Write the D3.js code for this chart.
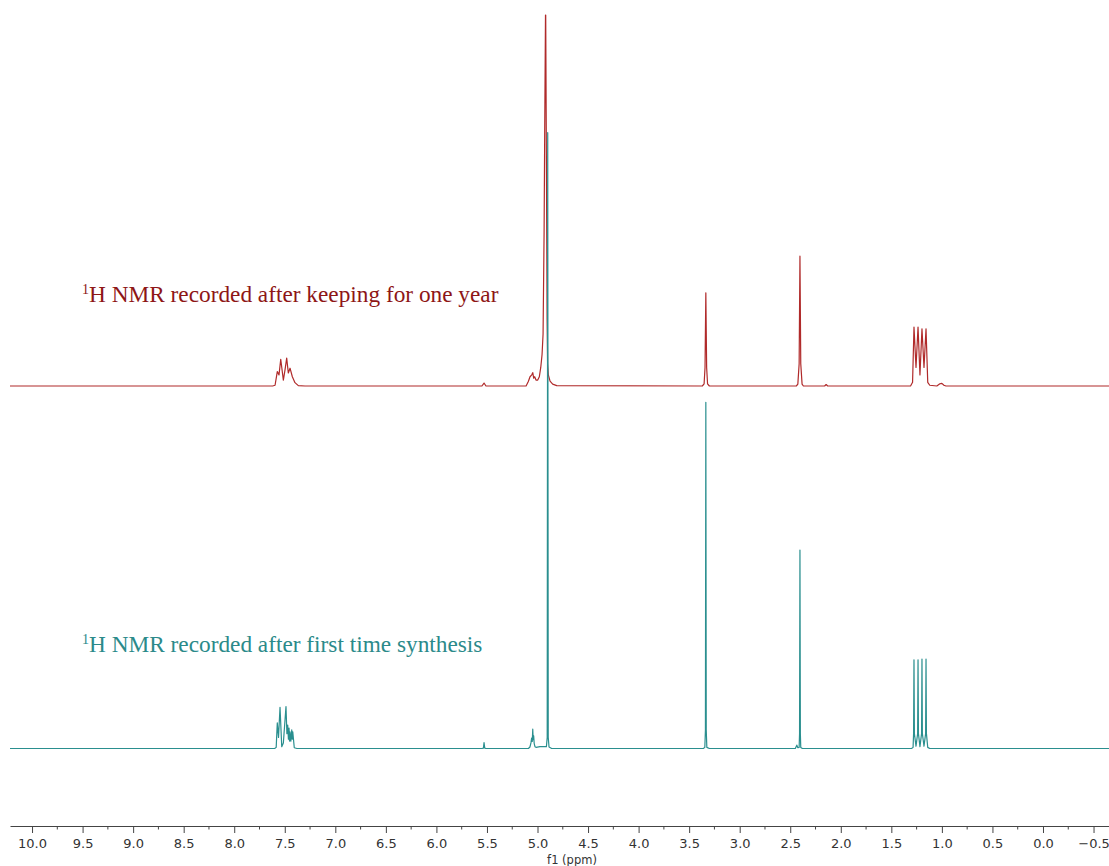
<!DOCTYPE html>
<html><head><meta charset="utf-8">
<script src="https://cdn.jsdelivr.net/npm/d3@7"></script>
<style>body{margin:0;background:#fff}svg{display:block}</style>
</head><body>
<svg id="chart" width="1109" height="866"></svg>
<script>
// ---- data ----
const agedShift = [10.218, 7.62, 7.596, 7.574, 7.557, 7.540, 7.514, 7.498, 7.481, 7.465, 7.448, 7.425, 7.399, 7.366, 7.30,
  5.55, 5.529, 5.51,
  5.113, 5.091, 5.074, 5.057, 5.047, 5.038, 5.028, 5.015, 4.998, 4.982, 4.968, 4.955, 4.945, 4.935, 4.929, 4.921, 4.919, 4.911, 4.905, 4.900, 4.893, 4.876, 4.85, 4.81,
  3.37, 3.352, 3.343, 3.335, 3.327, 3.318, 3.30,
  2.44, 2.425, 2.412, 2.404, 2.396, 2.383, 2.37,
  2.16, 2.145, 2.13,
  1.31, 1.29, 1.276, 1.256, 1.236, 1.217, 1.197, 1.177, 1.157, 1.14, 1.12,
  1.05, 1.02, 1.00, 0.98, 0.96,
  -0.653];
const agedIntensity = [0, 0, 0.2, 3.9, 3.0, 7.2, 1.6, 4.3, 7.5, 3.5, 4.8, 2.5, 0.9, 0.1, 0,
  0, 0.8, 0,
  0, 1.2, 2.5, 3.0, 3.6, 2.1, 2.5, 1.6, 1.6, 2.5, 5.0, 8.5, 14, 41, 68, 100, 100, 55, 18, 6, 3, 1.3, 0.5, 0.1,
  0, 0.6, 5, 25.1, 5, 0.6, 0,
  0, 0.5, 6, 35.0, 6, 0.5, 0,
  0, 0.4, 0,
  0, 1, 15.9, 5, 15.9, 3, 15.4, 5, 15.4, 1, 0.2,
  0, 0.6, 0.7, 0.2, 0,
  0];

const freshShift = [10.218, 7.60, 7.585, 7.574, 7.562, 7.547, 7.530, 7.514, 7.488, 7.479, 7.471, 7.464, 7.458, 7.453, 7.448, 7.440, 7.431, 7.426, 7.421, 7.406, 7.38,
  5.55, 5.535, 5.529, 5.522, 5.51,
  5.09, 5.075, 5.065, 5.058, 5.052, 5.047, 5.043, 5.038, 5.033, 5.025, 5.015, 4.975, 4.935, 4.912, 4.904, 4.899, 4.894, 4.886, 4.86,
  3.36, 3.345, 3.339, 3.335, 3.331, 3.325, 3.30,
  2.45, 2.435, 2.425, 2.412, 2.408, 2.404, 2.400, 2.396, 2.38,
  1.30, 1.285, 1.280, 1.276, 1.272, 1.256, 1.240, 1.236, 1.232, 1.217, 1.201, 1.197, 1.193, 1.177, 1.161, 1.157, 1.153, 1.14, 1.12,
  -0.653];
const freshIntensity = [0, 0, 0.3, 6.9, 3, 11.1, 0.5, 1.5, 11.3, 4, 6.3, 2.5, 5.5, 2, 4.5, 2, 5.0, 2.5, 4.5, 0.2, 0,
  0, 0.1, 1.6, 0.1, 0,
  0, 0.4, 1.5, 2.8, 1.9, 5.2, 2.4, 3.4, 1.4, 0.5, 0.3, 0.5, 0.5, 0.5, 3, 166, 3, 0.4, 0,
  0, 0.3, 5, 93.3, 5, 0.3, 0,
  0, 0.9, 0.2, 0.3, 4, 53.5, 4, 0.3, 0,
  0, 0.3, 4, 23.9, 4, 0.6, 4, 23.9, 4, 0.5, 4, 24.1, 4, 0.6, 4, 24.1, 4, 0.3, 0,
  0];

const seriesLabels = ["H NMR recorded after keeping for one year", "H NMR recorded after first time synthesis"];
const nucleusMark = "1";
const ppmTicks = [10.0, 9.5, 9.0, 8.5, 8.0, 7.5, 7.0, 6.5, 6.0, 5.5, 5.0, 4.5, 4.0, 3.5, 3.0, 2.5, 2.0, 1.5, 1.0, 0.5, 0.0, -0.5];
const axisTitle = "f1 (ppm)";

// ---- drawing ----
const svg = d3.select("#chart");
const x = d3.scaleLinear().domain([10.218, -0.653]).range([10, 1109]);
const h = d3.scaleLinear().domain([0, 100]).range([0, 371]);

const spectra = [
  {shift: agedShift, inten: agedIntensity, base: 386, line: "#b02a2a", text: "#8e1616", label: seriesLabels[0], ly: 302},
  {shift: freshShift, inten: freshIntensity, base: 748.5, line: "#2a8f8f", text: "#2b8a8a", label: seriesLabels[1], ly: 652}
];

spectra.forEach(s => {
  const pts = s.shift.map((p, i) => [p, s.inten[i]]);
  const line = d3.line().x(d => x(d[0])).y(d => s.base - h(d[1]));
  svg.append("path").attr("d", line(pts)).attr("fill", "none")
    .attr("stroke", s.line).attr("stroke-width", 1.2).attr("stroke-linejoin", "round");
  const t = svg.append("text").attr("x", 82).attr("y", s.ly)
    .attr("font-family", "'Liberation Serif', 'Times New Roman', serif").attr("fill", s.text);
  t.append("tspan").attr("font-size", 14).attr("dy", -8).text(nucleusMark);
  t.append("tspan").attr("font-size", 23.3).attr("dy", 8).text(s.label);
});

// axis
const axisY = 826;
const ax = svg.append("g").attr("transform", `translate(0,${axisY})`)
  .call(d3.axisBottom(x).tickValues(ppmTicks).tickSize(7).tickSizeOuter(0).tickPadding(6)
    .tickFormat(d3.format(".1f")));
ax.select(".domain").attr("stroke", "#444");
ax.selectAll(".tick line").attr("stroke", "#444");
ax.selectAll(".tick text").attr("font-family", "'DejaVu Sans', sans-serif").attr("font-size", 13).attr("fill", "#333");
const minor = d3.range(9.75, -0.6, -0.5);
ax.selectAll(".minor").data(minor).enter().append("line")
  .attr("x1", d => x(d)).attr("x2", d => x(d)).attr("y1", 0).attr("y2", 3.5).attr("stroke", "#444");
svg.append("text").attr("x", 572).attr("y", 863.5).attr("text-anchor", "middle")
  .attr("font-family", "'DejaVu Sans', sans-serif").attr("font-size", 11.5).attr("fill", "#333").text(axisTitle);
</script>
</body></html>
